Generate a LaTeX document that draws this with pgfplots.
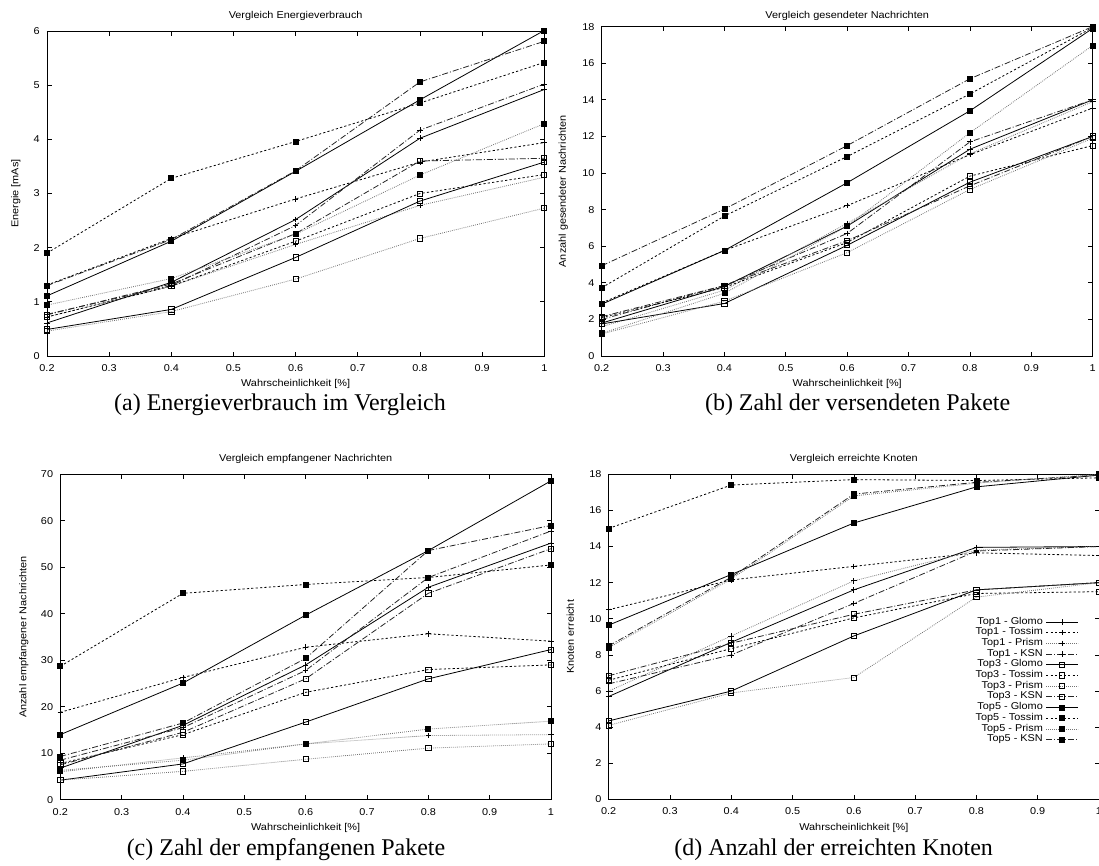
\documentclass[border=0pt]{standalone}
\usepackage{pgfplots}
\pgfplotsset{compat=1.18}
\usepackage{fontspec}
\setmainfont[FakeStretch=1.1]{Liberation Sans}
\newfontfamily\capfont{Liberation Serif}
\newcommand\gpfont{\fontsize{9.9}{11}\selectfont}

\pgfplotsset{
  every axis title shift=0pt,
  base/.style={
    scale only axis, anchor=south west, clip=false,
    xmin=0.2, xmax=1, xtick={0.2,0.3,0.4,0.5,0.6,0.7,0.8,0.9,1},
    tick align=inside, major tick length=4.5pt,
    axis line style={line width=0.9pt},
    every tick/.style={black, line width=0.7pt},
    /pgf/number format/assume math mode=true,
    tick label style={font=\gpfont},
    xticklabel style={anchor=center, yshift=-12pt},
    yticklabel style={anchor=east, xshift=-3.7pt},
    label style={font=\gpfont},
    title style={font=\gpfont, anchor=center},
    xlabel={Wahrscheinlichkeit [\%]},
  },
  glomo/.style={black, solid, line width=0.8pt},
  tossim/.style={black, line width=0.8pt, dash pattern=on 2.2pt off 2.2pt},
  prism/.style={black!55, line width=0.8pt, dash pattern=on 0.8pt off 1.2pt},
  ksn/.style={black!85, line width=0.8pt, dash pattern=on 6pt off 2pt on 1pt off 2pt},
  tA/.style={mark=+, mark size=2.8pt, mark options={solid, black}},
  tB/.style={mark=square, mark size=2.6pt, mark options={solid, black}},
  tC/.style={mark=square*, mark size=2.5pt, mark options={solid, black, fill=black}},
}

\begin{document}
\begin{tikzpicture}
\path[use as bounding box] (0pt,0pt) rectangle (1099pt,-866pt);

% ---------------- (a)
\begin{axis}[base, at={(47pt,-356pt)}, width=497.3pt, height=325pt,
  ymin=0, ymax=6, ytick={0,1,2,3,4,5,6},
  title={Vergleich Energieverbrauch},
  title style={at={(axis description cs:0.5,1.046)}},
  ylabel={Energie [mAs]},
  xlabel style={at={(axis description cs:0.5,-0.086)}, anchor=center},
  ylabel style={at={(axis description cs:-0.0627,0.5)}, anchor=center},
]
\addplot[glomo,tA]  coordinates {(0.2,0.61)(0.4,1.36)(0.6,2.52)(0.8,4.02)(1,4.92)};
\addplot[tossim,tA] coordinates {(0.2,1.31)(0.4,2.17)(0.6,2.90)(0.8,3.58)(1,3.94)};
\addplot[prism,tA]  coordinates {(0.2,0.72)(0.4,1.29)(0.6,2.06)(0.8,2.78)(1,3.30)};
\addplot[ksn,tA]    coordinates {(0.2,0.77)(0.4,1.30)(0.6,2.41)(0.8,4.17)(1,5.02)};
\addplot[glomo,tB]  coordinates {(0.2,0.49)(0.4,0.86)(0.6,1.82)(0.8,2.86)(1,3.58)};
\addplot[tossim,tB] coordinates {(0.2,0.72)(0.4,1.29)(0.6,2.12)(0.8,3.00)(1,3.35)};
\addplot[prism,tB]  coordinates {(0.2,0.46)(0.4,0.82)(0.6,1.42)(0.8,2.17)(1,2.73)};
\addplot[ksn,tB]    coordinates {(0.2,0.76)(0.4,1.33)(0.6,2.26)(0.8,3.60)(1,3.65)};
\addplot[glomo,tC]  coordinates {(0.2,1.11)(0.4,2.12)(0.6,3.41)(0.8,4.73)(1,6.01)};
\addplot[tossim,tC] coordinates {(0.2,1.90)(0.4,3.28)(0.6,3.96)(0.8,4.67)(1,5.42)};
\addplot[prism,tC]  coordinates {(0.2,0.94)(0.4,1.43)(0.6,2.25)(0.8,3.34)(1,4.29)};
\addplot[ksn,tC]    coordinates {(0.2,1.30)(0.4,2.15)(0.6,3.42)(0.8,5.06)(1,5.81)};
\end{axis}

% ---------------- (b)
\begin{axis}[base, at={(601.7pt,-356pt)}, width=491pt, height=329.4pt,
  ymin=0, ymax=18, ytick={0,2,4,6,8,10,12,14,16,18},
  title={Vergleich gesendeter Nachrichten},
  title style={at={(axis description cs:0.5,1.033)}},
  ylabel={Anzahl gesendeter Nachrichten},
  xlabel style={at={(axis description cs:0.5,-0.085)}, anchor=center},
  ylabel style={at={(axis description cs:-0.0782,0.5)}, anchor=center},
]
\addplot[glomo,tA]  coordinates {(0.2,1.80)(0.4,3.80)(0.6,7.10)(0.8,11.30)(1,14.00)};
\addplot[tossim,tA] coordinates {(0.2,2.90)(0.4,5.77)(0.6,8.22)(0.8,11.00)(1,13.55)};
\addplot[prism,tA]  coordinates {(0.2,1.60)(0.4,3.60)(0.6,7.25)(0.8,11.05)(1,13.90)};
\addplot[ksn,tA]    coordinates {(0.2,2.00)(0.4,3.85)(0.6,6.70)(0.8,11.70)(1,14.00)};
\addplot[glomo,tB]  coordinates {(0.2,1.75)(0.4,2.87)(0.6,6.05)(0.8,9.50)(1,12.00)};
\addplot[tossim,tB] coordinates {(0.2,2.10)(0.4,3.75)(0.6,6.20)(0.8,9.83)(1,11.50)};
\addplot[prism,tB]  coordinates {(0.2,1.20)(0.4,3.00)(0.6,5.65)(0.8,9.10)(1,11.90)};
\addplot[ksn,tB]    coordinates {(0.2,2.15)(0.4,3.85)(0.6,6.30)(0.8,9.30)(1,12.00)};
\addplot[glomo,tC]  coordinates {(0.2,2.83)(0.4,5.77)(0.6,9.47)(0.8,13.40)(1,17.90)};
\addplot[tossim,tC] coordinates {(0.2,3.73)(0.4,7.65)(0.6,10.90)(0.8,14.32)(1,17.95)};
\addplot[prism,tC]  coordinates {(0.2,1.24)(0.4,3.43)(0.6,7.10)(0.8,12.20)(1,16.97)};
\addplot[ksn,tC]    coordinates {(0.2,4.93)(0.4,8.03)(0.6,11.50)(0.8,15.15)(1,18.00)};
\end{axis}

% ---------------- (c)
\begin{axis}[base, at={(60.3pt,-799.7pt)}, width=490.7pt, height=325.4pt,
  ymin=0, ymax=70, ytick={0,10,20,30,40,50,60,70},
  title={Vergleich empfangener Nachrichten},
  title style={at={(axis description cs:0.5,1.047)}},
  ylabel={Anzahl empfangener Nachrichten},
  xlabel style={at={(axis description cs:0.5,-0.0872)}, anchor=center},
  ylabel style={at={(axis description cs:-0.0742,0.5)}, anchor=center},
]
\addplot[glomo,tA]  coordinates {(0.2,6.8)(0.4,16.0)(0.6,29.0)(0.8,45.7)(1,55.2)};
\addplot[tossim,tA] coordinates {(0.2,18.8)(0.4,26.3)(0.6,32.8)(0.8,35.7)(1,34.1)};
\addplot[prism,tA]  coordinates {(0.2,6.0)(0.4,9.0)(0.6,12.0)(0.8,13.8)(1,14.0)};
\addplot[ksn,tA]    coordinates {(0.2,8.5)(0.4,15.5)(0.6,27.8)(0.8,47.8)(1,57.8)};
\addplot[glomo,tB]  coordinates {(0.2,4.2)(0.4,7.7)(0.6,16.7)(0.8,26.0)(1,32.3)};
\addplot[tossim,tB] coordinates {(0.2,7.8)(0.4,14.0)(0.6,23.1)(0.8,28.0)(1,29.0)};
\addplot[prism,tB]  coordinates {(0.2,4.2)(0.4,6.1)(0.6,8.7)(0.8,11.1)(1,12.0)};
\addplot[ksn,tB]    coordinates {(0.2,7.5)(0.4,14.5)(0.6,26.0)(0.8,44.4)(1,54.0)};
\addplot[glomo,tC]  coordinates {(0.2,14.0)(0.4,25.1)(0.6,39.7)(0.8,53.6)(1,68.6)};
\addplot[tossim,tC] coordinates {(0.2,28.7)(0.4,44.4)(0.6,46.3)(0.8,47.8)(1,50.5)};
\addplot[prism,tC]  coordinates {(0.2,6.3)(0.4,8.5)(0.6,12.0)(0.8,15.2)(1,16.9)};
\addplot[ksn,tC]    coordinates {(0.2,9.3)(0.4,16.5)(0.6,30.4)(0.8,53.6)(1,59.0)};
\end{axis}

% ---------------- (d)
\begin{axis}[base, at={(608.7pt,-799.5pt)}, width=490.3pt, height=325.3pt,
  ymin=0, ymax=18, ytick={0,2,4,6,8,10,12,14,16,18},
  title={Vergleich erreichte Knoten},
  title style={at={(axis description cs:0.5,1.047)}},
  ylabel={Knoten erreicht},
  xlabel style={at={(axis description cs:0.5,-0.0872)}, anchor=center},
  ylabel style={at={(axis description cs:-0.0783,0.5)}, anchor=center},
  legend cell align=right, legend plot pos=right,
  legend image code/.code={\draw[mark repeat=2,mark phase=2,#1] plot coordinates {(0pt,0pt) (16pt,0pt) (32pt,0pt)};},
  legend style={at={(axis description cs:0.965,0.365)}, anchor=east, draw=none, fill=none,
    font=\gpfont, row sep=0pt, column sep=3pt,
    nodes={inner sep=0pt, text height=7.5pt, text depth=3.2pt}},
]
\addplot[glomo,tA]  coordinates {(0.2,5.7)(0.4,8.7)(0.6,11.6)(0.8,13.95)(1,14.0)};
\addplot[tossim,tA] coordinates {(0.2,10.5)(0.4,12.15)(0.6,12.9)(0.8,13.65)(1,13.5)};
\addplot[prism,tA]  coordinates {(0.2,6.0)(0.4,9.05)(0.6,12.1)(0.8,13.8)(1,14.0)};
\addplot[ksn,tA]    coordinates {(0.2,6.4)(0.4,8.0)(0.6,10.85)(0.8,13.75)(1,14.0)};
\addplot[glomo,tB]  coordinates {(0.2,4.35)(0.4,6.0)(0.6,9.05)(0.8,11.6)(1,12.0)};
\addplot[tossim,tB] coordinates {(0.2,6.6)(0.4,8.35)(0.6,10.05)(0.8,11.4)(1,11.5)};
\addplot[prism,tB]  coordinates {(0.2,4.1)(0.4,5.9)(0.6,6.75)(0.8,11.2)(1,12.0)};
\addplot[ksn,tB]    coordinates {(0.2,6.85)(0.4,8.65)(0.6,10.25)(0.8,11.6)(1,12.0)};
\addplot[glomo,tC]  coordinates {(0.2,9.65)(0.4,12.45)(0.6,15.3)(0.8,17.3)(1,17.95)};
\addplot[tossim,tC] coordinates {(0.2,15.0)(0.4,17.4)(0.6,17.7)(0.8,17.65)(1,17.8)};
\addplot[prism,tC]  coordinates {(0.2,8.4)(0.4,12.2)(0.6,16.8)(0.8,17.5)(1,18.0)};
\addplot[ksn,tC]    coordinates {(0.2,8.5)(0.4,12.3)(0.6,16.9)(0.8,17.55)(1,17.95)};
\legend{Top1 - Glomo, Top1 - Tossim, Top1 - Prism, Top1 - KSN,
        Top3 - Glomo, Top3 - Tossim, Top3 - Prism, Top3 - KSN,
        Top5 - Glomo, Top5 - Tossim, Top5 - Prism, Top5 - KSN}
\end{axis}

% captions
\node[font=\capfont\fontsize{24}{28}\selectfont, anchor=base] at (280pt,-410pt) {(a) Energieverbrauch im Vergleich};
\node[font=\capfont\fontsize{24}{28}\selectfont, anchor=base] at (857.6pt,-410pt) {(b) Zahl der versendeten Pakete};
\node[font=\capfont\fontsize{24}{28}\selectfont, anchor=base] at (286pt,-855pt) {(c) Zahl der empfangenen Pakete};
\node[font=\capfont\fontsize{24}{28}\selectfont, anchor=base] at (833.6pt,-855pt) {(d) Anzahl der erreichten Knoten};
\end{tikzpicture}
\end{document}
